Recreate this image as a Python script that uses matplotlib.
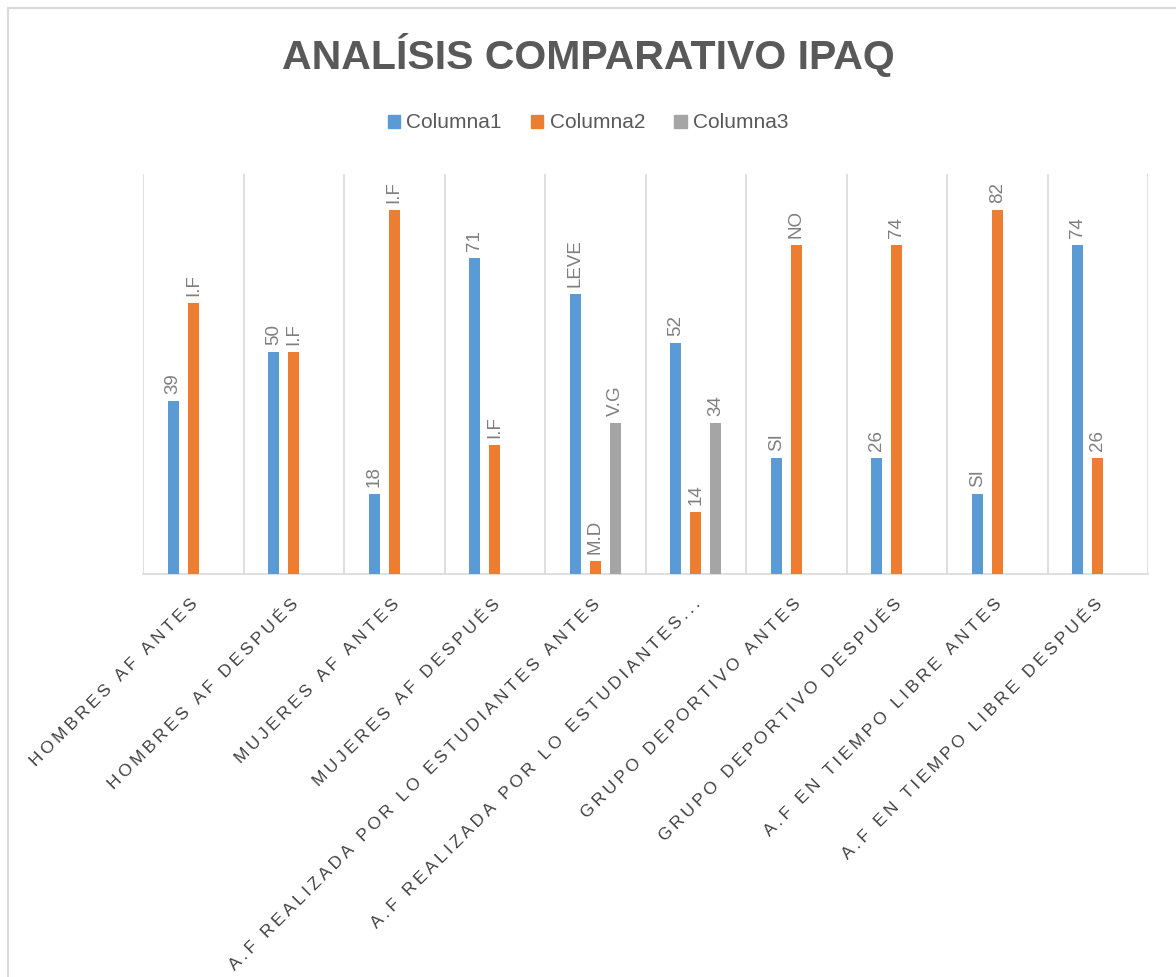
import numpy as np
import matplotlib.pyplot as plt
from matplotlib.lines import Line2D

# ---- datos ----
categorias = ["HOMBRES AF ANTES", "HOMBRES AF DESPUÉS", "MUJERES AF ANTES",
              "MUJERES AF DESPUÉS", "A.F REALIZADA POR LO ESTUDIANTES ANTES",
              "A.F REALIZADA POR LO ESTUDIANTES...", "GRUPO DEPORTIVO ANTES",
              "GRUPO DEPORTIVO DESPUÉS", "A.F EN TIEMPO LIBRE ANTES",
              "A.F EN TIEMPO LIBRE DESPUÉS"]
series = ["Columna1", "Columna2", "Columna3"]
col1 = [39, 50, 18, 71, 63, 52, 26, 26, 18, 74]
col2 = [61, 50, 82, 29, 3, 14, 74, 74, 82, 26]
col3 = [None, None, None, None, 34, 34, None, None, None, None]
etiq1 = ["39", "50", "18", "71", "LEVE", "52", "SI", "26", "SI", "74"]
etiq2 = ["I.F", "I.F", "I.F", "I.F", "M.D", "14", "NO", "74", "82", "26"]
etiq3 = [None, None, None, None, "V.G", "34", None, None, None, None]
colores = ["#5b9bd5", "#ed7d31", "#a5a5a5"]

plt.rcParams['font.family'] = ['Liberation Sans', 'DejaVu Sans']

fig = plt.figure(figsize=(11.76, 9.77), dpi=100)
ax = fig.add_axes([143/1176, 1 - 574/977, (1148-143)/1176, 400/977])

x = np.arange(len(categorias))
offsets = [-0.2, 0.0, 0.2]
ancho = 0.11
for vals, labs, off, c in zip([col1, col2, col3], [etiq1, etiq2, etiq3],
                              offsets, colores):
    for xi, v, lb in zip(x, vals, labs):
        if v is None:
            continue
        ax.bar(xi + off, v, width=ancho, color=c, zorder=3)
        ax.annotate(lb, (xi + off, v), xytext=(0, 5), textcoords='offset points',
                    rotation=90, ha='center', va='bottom', fontsize=13.5,
                    color='#7f7f7f')

ax.set_xlim(-0.5, len(categorias) - 0.5)
ax.set_ylim(0, 90)
ax.set_yticks([])
for b in np.arange(-0.5, len(categorias), 1):
    ax.axvline(b, color='#d9d9d9', lw=1.2, zorder=1)
for s in ['top', 'right', 'left']:
    ax.spines[s].set_visible(False)
ax.spines['bottom'].set_color('#d9d9d9')
ax.spines['bottom'].set_linewidth(1.2)
ax.set_xticks(x)
ax.set_xticklabels([])
ax.tick_params(axis='x', length=0)

# etiquetas de categoría con espaciado entre letras
for xi, cat in zip(x, categorias):
    espaciada = "\u2009".join(cat)
    ax.annotate(espaciada, (xi, 0), xytext=(-2, -16), textcoords='offset points',
                rotation=45, ha='right', va='top', rotation_mode='anchor',
                fontsize=12.5, color='#404040')

fig.text(0.5, 1 - 55/977, "ANALÍSIS COMPARATIVO IPAQ", ha='center', va='center',
         fontsize=29.5, fontweight='bold', color='#595959')

handles = [plt.Rectangle((0, 0), 1, 1, color=c) for c in colores]
fig.legend(handles, series, loc='center', bbox_to_anchor=(0.5, 1 - 123/977),
           ncol=3, frameon=False, fontsize=15, handlelength=0.6, handleheight=0.6,
           columnspacing=1.4, handletextpad=0.3, labelcolor='#595959')

# borde del gráfico
fig.add_artist(Line2D([8/1176, 8/1176], [0, 1 - 8/977], color='#d9d9d9', lw=1.5))
fig.add_artist(Line2D([8/1176, 1], [1 - 8/977, 1 - 8/977], color='#d9d9d9', lw=1.5))

fig.savefig("out.png", dpi=100)
